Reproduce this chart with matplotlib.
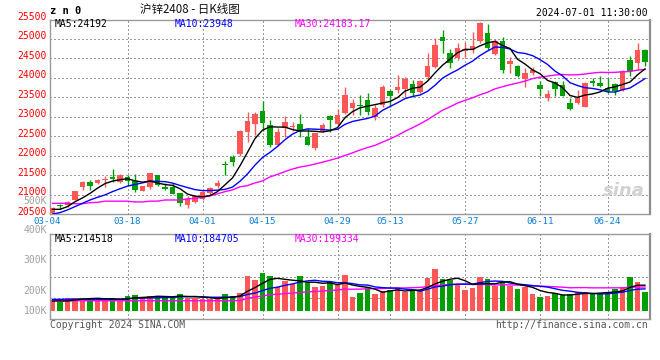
import matplotlib
matplotlib.use("Agg")
import matplotlib.pyplot as plt
import numpy as np
from matplotlib import transforms

# ---------------- data ----------------
opens = [20520, 20720, 20730, 20860, 21190, 21320, 21300, 21385, 21450, 21330,
         21445, 21350, 21100, 21200, 21500, 21185, 21185, 21030, 20730, 20800,
         20880, 21050, 21220, 21775, 21965, 22040, 22615, 22815, 23150, 22790,
         22275, 22700, 22730, 22815, 22470, 22190, 22640, 23020, 22815, 23105,
         23235, 23300, 23430, 23000, 23300, 23660, 23690, 23715, 23835, 23630,
         24030, 24290, 25050, 24640, 24500, 24700, 24715, 24960, 25150, 24610,
         24956, 24356, 24304, 23962, 24116, 23816, 23482, 23902, 23816, 23345,
         23345, 23259, 23927, 23859, 23730, 23842, 23687, 24459, 24373, 24716]
highs = [20670, 20750, 20840, 21100, 21340, 21375, 21400, 21475, 21650, 21530,
         21500, 21530, 21230, 21560, 21510, 21290, 21290, 21040, 20960, 20990,
         21100, 21200, 21375, 21865, 22015, 22650, 23130, 23130, 23415, 22915,
         22700, 23020, 22875, 23070, 22700, 22590, 22830, 23045, 23190, 23775,
         23450, 23560, 23600, 23300, 23815, 23690, 24075, 24030, 23945, 23945,
         24630, 25035, 25230, 24740, 24885, 24910, 25185, 25430, 25376, 25000,
         25041, 24544, 24330, 24244, 24270, 23919, 23688, 23919, 23928, 23473,
         23688, 23902, 23987, 24047, 23987, 23859, 24201, 24561, 24887, 24733]
lows = [20500, 20630, 20690, 20850, 21120, 21120, 21270, 21200, 21330, 21305,
        21245, 21075, 21090, 21150, 21230, 21115, 21010, 20705, 20665, 20780,
        20860, 20990, 21160, 21500, 21735, 22000, 22360, 22530, 22640, 22230,
        22250, 22490, 22640, 22490, 22270, 22145, 22615, 22615, 22790, 23070,
        23045, 23045, 23045, 22915, 23260, 23260, 23600, 23515, 23515, 23600,
        23945, 24260, 24630, 24245, 24460, 24545, 24630, 24890, 24716, 24590,
        24133, 24116, 24030, 23773, 24073, 23533, 23413, 23533, 23533, 23173,
        23319, 23242, 23790, 23756, 23619, 23559, 23670, 24047, 24201, 24304]
closes = [20645, 20700, 20815, 21090, 21320, 21220, 21380, 21400, 21410, 21500,
          21340, 21120, 21220, 21555, 21245, 21145, 21015, 20790, 20875, 20965,
          21075, 21160, 21305, 21750, 21845, 22640, 22890, 23070, 22830, 22275,
          22615, 22875, 22760, 22640, 22280, 22575, 22790, 22915, 23045, 23560,
          23345, 23285, 23130, 23235, 23775, 23540, 23775, 23970, 23600, 23920,
          24305, 24845, 24950, 24373, 24758, 24740, 24825, 25420, 24760, 24950,
          24201, 24441, 24047, 24133, 24201, 23713, 23585, 23713, 23533, 23190,
          23473, 23876, 23859, 23790, 23662, 23662, 24176, 24176, 24716, 24416]
volumes = [90, 76, 110, 110, 104, 110, 90, 90, 110, 82,
           127, 132, 110, 127, 113, 118, 118, 141, 110, 104,
           98, 98, 104, 141, 127, 152, 295, 259, 321, 293,
           197, 253, 222, 293, 231, 203, 208, 239, 217, 301,
           118, 149, 203, 141, 166, 174, 194, 155, 174, 174,
           278, 349, 267, 259, 217, 174, 194, 287, 267, 211,
           250, 208, 183, 203, 141, 118, 127, 146, 132, 138,
           155, 160, 138, 152, 160, 180, 203, 287, 245, 160]
volumes = [v * 1000 for v in volumes]

# moving-average values at the start of the window (they depend on earlier days)
ma5_head = [20620, 20620, 20690, 20815]
ma10_head = [20500, 20535, 20605, 20690, 20775, 20860, 20930, 20990, 21075]
ma30_head = [20775, 20775, 20770, 20765, 20765, 20790, 20800, 20830, 20830, 20830,
             20830, 20810, 20810, 20830, 20830, 20860, 20860, 20860, 20890, 20900,
             20930, 20965, 21020, 21075, 21120, 21200, 21230, 21300, 21350]
vma5_head = [82000, 82000, 82000, 90000]
vma10_head = [96000, 96000, 97000, 97000, 97000, 97000, 96000, 96000, 97000]
vma30_head = [84000] * 26 + [104000, 115000, 124000]

tick_labels = ["03-04", "03-18", "04-01", "04-15", "04-29", "05-13", "05-27", "06-11", "06-24"]
tick_index = [0, 10, 20, 28, 38, 45, 55, 65, 74]
price_ticks = [20500, 21000, 21500, 22000, 22500, 23000, 23500, 24000, 24500, 25000, 25500]
vol_tick_labels = ["500K", "400K", "300K", "200K", "100K"]

title_code = "z n 0"
title_text = "沪锌2408 - 日K线图"
timestamp = "2024-07-01 11:30:00"
ma_legend = ["MA5:24192", "MA10:23948", "MA30:24183.17"]
vol_legend = ["MA5:214518", "MA10:184705", "MA30:199334"]
copyright_text = "Copyright 2024 SINA.COM"
url_text = "http://finance.sina.com.cn"


def rolling(values, n, head):
    arr = np.asarray(values, float)
    out = np.empty(len(arr))
    out[:len(head)] = head
    for i in range(len(head), len(arr)):
        out[i] = arr[i - n + 1:i + 1].mean()
    return out


# ---------------- styling ----------------
W, H = 660, 360
RED = "#FF5656"
GREEN = "#009E00"
GRID = "#9A9A9A"
MONO = "DejaVu Sans Mono"
FS = 7

fig = plt.figure(figsize=(W / 100, H / 100), dpi=100)
fig.patch.set_facecolor("white")


def fx(px):
    return px / W


def fy(py):
    return 1 - py / H


ax = fig.add_axes([fx(50), fy(214), fx(600), (214 - 19.5) / H])
axv = fig.add_axes([fx(50), fy(319), fx(600), (319 - 234) / H])

o = np.array(opens, float)
h = np.array(highs, float)
l = np.array(lows, float)
c = np.array(closes, float)
x = np.arange(len(o))
up = c >= o
cols = [RED if u else GREEN for u in up]

xmin, xmax = -1 / 3, len(o) - 1 / 3
for a in (ax, axv):
    a.set_xlim(xmin, xmax)
    a.set_xticks([])
    a.set_yticks([])
    for s in a.spines.values():
        s.set_color("#9A9A9A")
        s.set_linewidth(1)
    a.spines["right"].set_linewidth(1.6)
    a.spines["right"].set_color("#8C8C8C")
    for ti in tick_index[1:]:
        a.axvline(ti, color=GRID, lw=1, ls=(0, (1, 2)), zorder=0, antialiased=False)

ax.set_ylim(price_ticks[0], price_ticks[-1])
for p in price_ticks[1:-1]:
    ax.axhline(p, color=GRID, lw=1, ls=(0, (1, 2)), zorder=0, antialiased=False)

# candles
ax.vlines(x, l, h, colors=cols, lw=1, zorder=2)
body_h = np.maximum(np.abs(c - o), 26)
ax.bar(x, body_h, bottom=np.minimum(o, c), width=0.76, color=cols, lw=0, zorder=3)

ma5 = rolling(c, 5, ma5_head)
ma10 = rolling(c, 10, ma10_head)
ma30 = rolling(c, 30, ma30_head)
ax.plot(x, ma30, color="#FF00FF", lw=1, zorder=4)
ax.plot(x, ma10, color="#0000FF", lw=1, zorder=5)
ax.plot(x, ma5, color="black", lw=1, zorder=6)

# sina watermark
ax.text(0.992, 0.07, "sina", transform=ax.transAxes, ha="right", va="bottom",
        fontsize=13, fontstyle="italic", fontweight="bold", color="#D2D2D2", zorder=1)

# price labels (a little above the grid line)
lab_tr = transforms.offset_copy(
    transforms.blended_transform_factory(fig.transFigure, ax.transData),
    fig=fig, x=0, y=2.5, units="dots")
for p in price_ticks:
    fig.text(fx(47), p, str(p), transform=lab_tr, ha="right", va="center",
             fontsize=FS, family=MONO, color="#FF0000")

# volume
v = np.array(volumes, float)
axv.set_ylim(-70000, 647000)
y0, y1 = axv.get_ylim()
for frac in (0.25, 0.5, 0.75):
    axv.axhline(y0 + frac * (y1 - y0), color=GRID, lw=1, ls=(0, (1, 2)),
                zorder=0, antialiased=False)
axv.bar(x, v, width=0.76, color=cols, lw=0, zorder=2)
vma5 = rolling(v, 5, vma5_head)
vma10 = rolling(v, 10, vma10_head)
vma30 = rolling(v, 30, vma30_head)
axv.plot(x, vma30, color="#FF00FF", lw=1, zorder=3)
axv.plot(x, vma10, color="#0000FF", lw=1, zorder=4)
axv.plot(x, vma5, color="black", lw=1, zorder=5)

vol_label_py = [200.7, 230, 260, 290.7, 311]
for t, py in zip(vol_tick_labels, vol_label_py):
    fig.text(fx(47), fy(py), t, ha="right", va="center", fontsize=FS,
             family=MONO, color="#A0A0A0")

# date labels
for t, ti in zip(tick_labels, tick_index):
    xf = fig.transFigure.inverted().transform(ax.transData.transform((ti, 0)))[0]
    if ti == 0:
        xf = fx(47)
    fig.text(xf, fy(222), t, ha="center", va="center", fontsize=6.6,
             family=MONO, color="#0A7ED8")

# header texts
fig.text(fx(50), fy(10.5), title_code, ha="left", va="center", fontsize=7.5,
         family=MONO, fontweight="bold", color="black")
fig.text(fx(140), fy(10), title_text, ha="left", va="center", fontsize=8.3,
         family=["Noto Sans CJK SC", "DejaVu Sans"], color="#111111")
fig.text(fx(648), fy(12.5), timestamp, ha="right", va="center", fontsize=FS,
         family=MONO, color="black")

leg_cols = ["black", "#0000FF", "#FF00FF"]
leg_x = [55, 175, 295]
for t, col, px in zip(ma_legend, leg_cols, leg_x):
    fig.text(fx(px), fy(24), t, ha="left", va="center", fontsize=FS,
             family=MONO, color=col)
for t, col, px in zip(vol_legend, leg_cols, leg_x):
    fig.text(fx(px), fy(239), t, ha="left", va="center", fontsize=FS,
             family=MONO, color=col)

fig.text(fx(50), fy(324.5), copyright_text, ha="left", va="center", fontsize=FS,
         family=MONO, color="#555555")
fig.text(fx(648), fy(324.5), url_text, ha="right", va="center", fontsize=FS,
         family=MONO, color="#555555")

fig.savefig("out.png", dpi=100, facecolor="white")
